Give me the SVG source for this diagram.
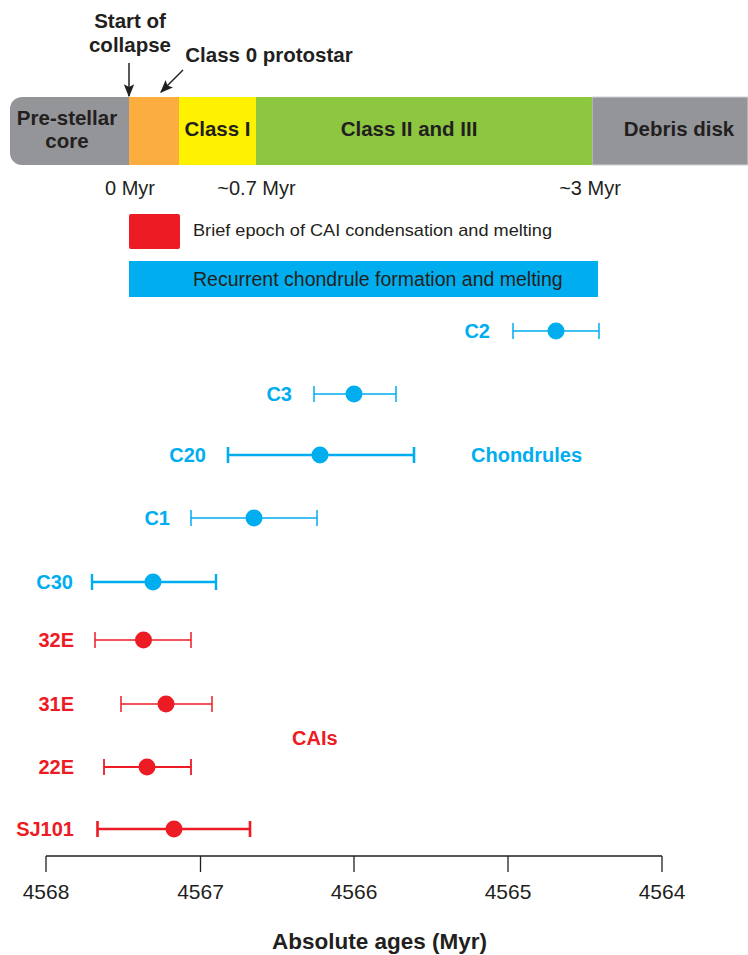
<svg xmlns="http://www.w3.org/2000/svg" width="748" height="955" viewBox="0 0 748 955">
<defs>
<style>
.b{font-family:"Liberation Sans",Arial,sans-serif;font-weight:bold;fill:#231f20}
.r{font-family:"Liberation Sans",Arial,sans-serif;fill:#231f20}
.lb{font-family:"Liberation Sans",Arial,sans-serif;font-weight:bold;font-size:20px}
.blue{fill:#00aeef}
.red{fill:#ed1c24}
.bl{stroke:#00aeef;fill:none}
.rl{stroke:#ed1c24;fill:none}
.ax{stroke:#231f20;stroke-width:1.3;fill:none}
</style>
<marker id="ah" viewBox="0 0 10 10" refX="9" refY="5" markerWidth="6" markerHeight="6" orient="auto" markerUnits="userSpaceOnUse">
<path d="M0,0 L10,5 L0,10 z" fill="#231f20"/>
</marker>
<marker id="ah2" viewBox="0 0 10 10" refX="9" refY="5" markerWidth="13" markerHeight="13" orient="auto" markerUnits="userSpaceOnUse">
<path d="M0,1 L10,5 L0,9 L2,5 z" fill="#231f20"/>
</marker>
</defs>
<rect width="748" height="955" fill="#ffffff"/>

<g id="timeline">
<path d="M22,97 H130 V165 H22 A12,12 0 0 1 10,153 V109 A12,12 0 0 1 22,97 Z" fill="#939598"/>
<rect x="592" y="97" width="156" height="68" fill="#939598" stroke="#d0d1d3" stroke-width="1"/>
<rect x="129" y="97" width="50" height="68" fill="#fbad3f"/>
<rect x="179" y="97" width="77" height="68" fill="#fff200"/>
<rect x="256" y="97" width="336" height="68" fill="#8dc63f"/>
<text class="b" font-size="20.5" x="67" y="125" text-anchor="middle">Pre-stellar</text>
<text class="b" font-size="20.5" x="67" y="148" text-anchor="middle">core</text>
<text class="b" font-size="20.5" x="217.5" y="136" text-anchor="middle">Class I</text>
<text class="b" font-size="20.5" x="409" y="136" text-anchor="middle">Class II and III</text>
<text class="b" font-size="20.5" x="679" y="136" text-anchor="middle">Debris disk</text>
</g>

<g id="annotations">
<text class="b" font-size="20.5" x="130" y="28" text-anchor="middle">Start of</text>
<text class="b" font-size="20.5" x="130" y="52" text-anchor="middle">collapse</text>
<text class="b" font-size="20.5" x="269" y="62" text-anchor="middle">Class 0 protostar</text>
<text class="r" font-size="20" x="130" y="195" text-anchor="middle">0 Myr</text>
<text class="r" font-size="20" x="256.5" y="195" text-anchor="middle">~0.7 Myr</text>
<text class="r" font-size="20" x="590" y="195" text-anchor="middle">~3 Myr</text>
</g>

<g id="connectors">
<line x1="129" y1="63" x2="129" y2="96" stroke="#231f20" stroke-width="1.5" marker-end="url(#ah2)"/>
<line x1="183" y1="70" x2="161" y2="92" stroke="#231f20" stroke-width="1.5" marker-end="url(#ah2)"/>
</g>

<g id="legend">
<rect x="129" y="214" width="51" height="35" rx="2" fill="#ed1c24"/>
<text class="r" font-size="17" x="193" y="236" textLength="359" lengthAdjust="spacingAndGlyphs">Brief epoch of CAI condensation and melting</text>
<rect x="129" y="261" width="469" height="36" fill="#00aeef"/>
<text class="r" font-size="19.5" x="193" y="286">Recurrent chondrule formation and melting</text>
</g>

<g id="C2">
<text class="lb blue" x="490" y="338" text-anchor="end">C2</text>
<path class="bl" stroke-width="1.5" d="M513,331 H599 M513,323 V339 M599,323 V339"/>
<circle class="blue" cx="556" cy="331" r="8.5"/>
</g>
<g id="C3">
<text class="lb blue" x="292" y="401" text-anchor="end">C3</text>
<path class="bl" stroke-width="1.5" d="M314,394 H396 M314,386 V402 M396,386 V402"/>
<circle class="blue" cx="354" cy="394" r="8.5"/>
</g>
<g id="C20">
<text class="lb blue" x="206" y="462" text-anchor="end">C20</text>
<path class="bl" stroke-width="2.6" d="M228,455 H414 M228,447 V463 M414,447 V463"/>
<circle class="blue" cx="320" cy="455" r="8.5"/>
</g>
<g id="chondrules-label">
<text class="lb blue" x="471" y="462">Chondrules</text>
</g>
<g id="C1">
<text class="lb blue" x="170" y="525" text-anchor="end">C1</text>
<path class="bl" stroke-width="1.5" d="M191,518 H317 M191,510 V526 M317,510 V526"/>
<circle class="blue" cx="254" cy="518" r="8.5"/>
</g>
<g id="C30">
<text class="lb blue" x="73" y="589" text-anchor="end">C30</text>
<path class="bl" stroke-width="2.4" d="M92,582 H216 M92,574 V590 M216,574 V590"/>
<circle class="blue" cx="153" cy="582" r="8.5"/>
</g>
<g id="E32">
<text class="lb red" x="74" y="647" text-anchor="end">32E</text>
<path class="rl" stroke-width="1.5" d="M95,640 H191 M95,632 V648 M191,632 V648"/>
<circle class="red" cx="143.5" cy="640" r="8.5"/>
</g>
<g id="E31">
<text class="lb red" x="74" y="711" text-anchor="end">31E</text>
<path class="rl" stroke-width="1.5" d="M121,704 H212 M121,696 V712 M212,696 V712"/>
<circle class="red" cx="166" cy="704" r="8.5"/>
</g>
<g id="cais-label">
<text class="lb red" x="292" y="745">CAIs</text>
</g>
<g id="E22">
<text class="lb red" x="74" y="774" text-anchor="end">22E</text>
<path class="rl" stroke-width="1.8" d="M104,767 H191 M104,759 V775 M191,759 V775"/>
<circle class="red" cx="147" cy="767" r="8.5"/>
</g>
<g id="SJ101">
<text class="lb red" x="74" y="836" text-anchor="end">SJ101</text>
<path class="rl" stroke-width="2.6" d="M97.5,829 H250 M97.5,821 V837 M250,821 V837"/>
<circle class="red" cx="174" cy="829" r="8.5"/>
</g>

<g id="axis">
<path class="ax" d="M46,856 H662 M46,856 V872 M200.5,856 V872 M354,856 V872 M508,856 V872 M662,856 V872"/>
<text class="r" font-size="21" x="46" y="899" text-anchor="middle">4568</text>
<text class="r" font-size="21" x="200.5" y="899" text-anchor="middle">4567</text>
<text class="r" font-size="21" x="354" y="899" text-anchor="middle">4566</text>
<text class="r" font-size="21" x="508" y="899" text-anchor="middle">4565</text>
<text class="r" font-size="21" x="662" y="899" text-anchor="middle">4564</text>
<text class="b" font-size="22.5" x="379.5" y="949" text-anchor="middle">Absolute ages (Myr)</text>
</g>
</svg>
